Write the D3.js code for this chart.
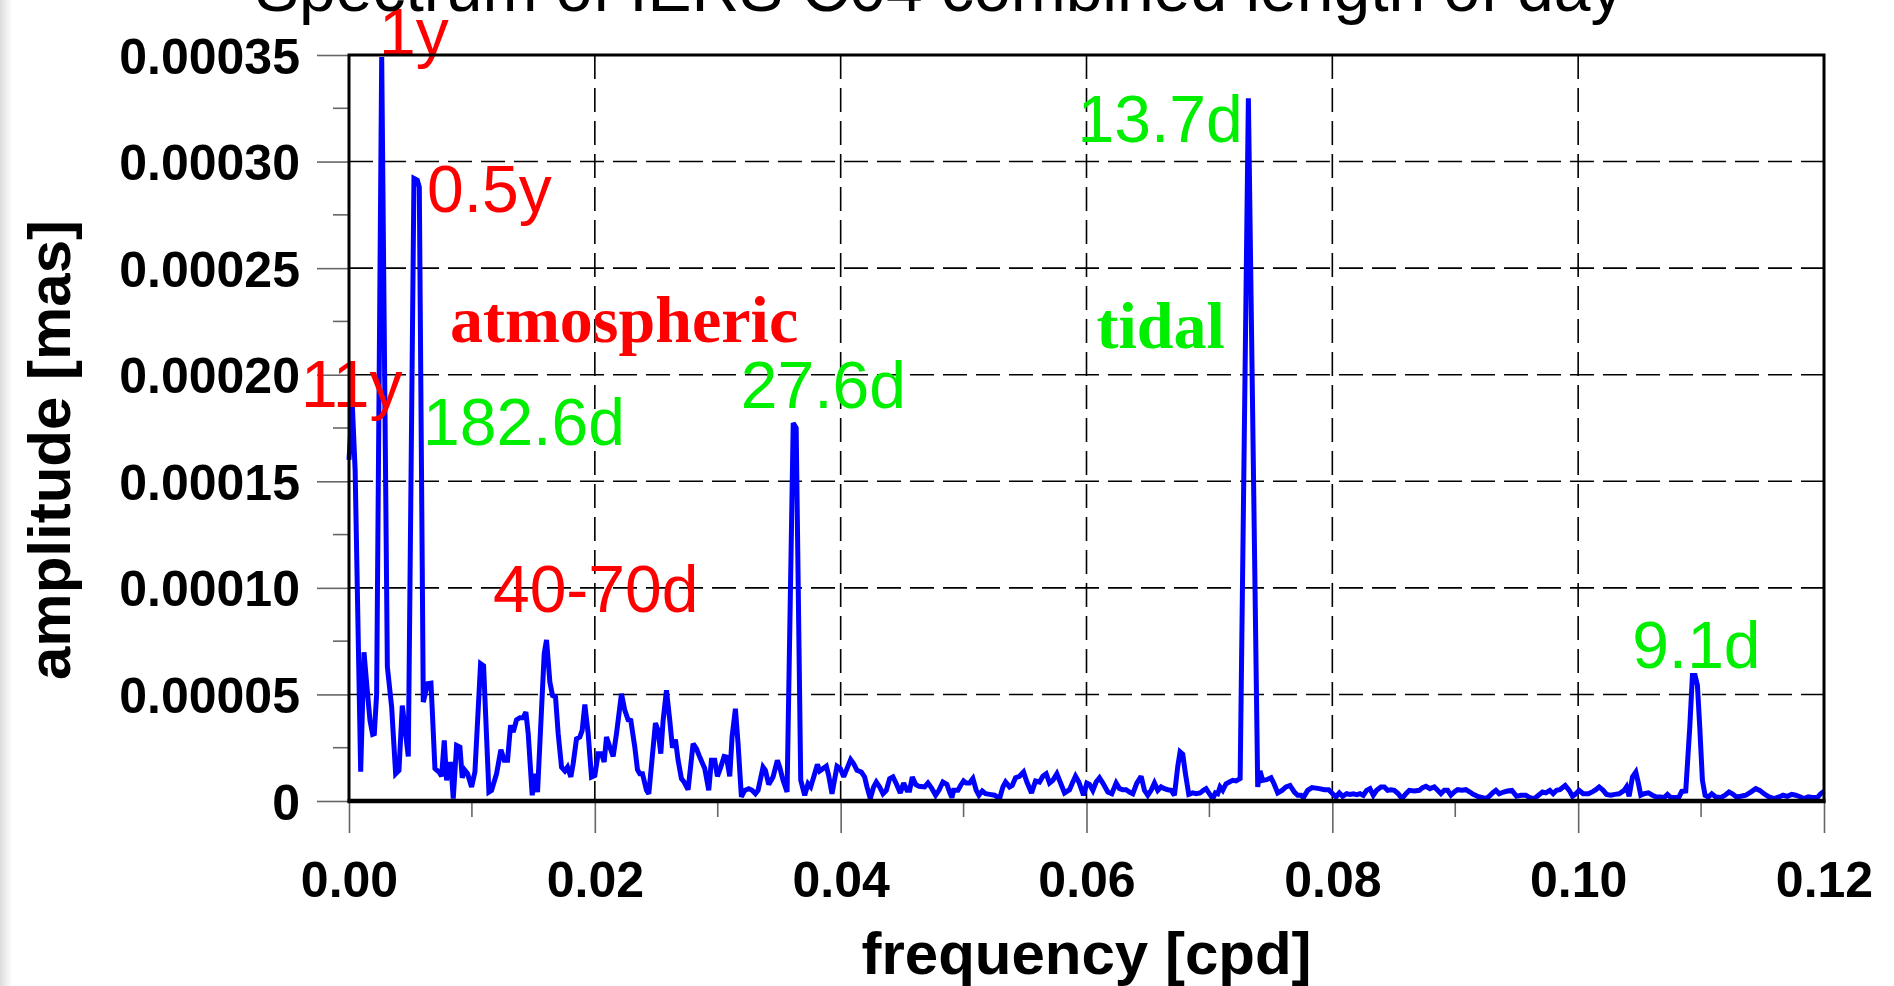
<!DOCTYPE html>
<html><head><meta charset="utf-8">
<script src="https://cdn.jsdelivr.net/npm/d3@7"></script>
<style>html,body{margin:0;padding:0;background:#fff;overflow:hidden}</style>
</head><body>
<svg id="chart" width="1894" height="986"></svg>
<script>
// ---------------- data ----------------
const freqCpd = [
0,0.00027,0.0005,0.00095,0.00122,0.001436,0.001707,0.001924,0.00206,0.002249,
0.00266,0.00312,0.003469,0.003794,0.004065,0.004336,0.004824,0.005285,0.00556,0.00572,
0.006043,0.006396,0.006667,0.006775,0.006992,0.007317,0.007534,0.007751,0.00794,0.00813,
0.008293,0.008482,0.008753,0.009024,0.009214,0.009431,0.009648,0.009973,0.010244,0.010705,
0.010949,0.011382,0.011599,0.012005,0.012358,0.012629,0.0129,0.013144,0.01336,0.013631,
0.013902,0.014173,0.01439,0.01458,0.014905,0.015122,0.015339,0.015881,0.01607,0.016341,
0.016558,0.016802,0.017019,0.01729,0.017561,0.017778,0.018049,0.018238,0.018509,0.01878,
0.01897,0.019187,0.019458,0.019729,0.02,0.020271,0.020542,0.020759,0.020949,0.02122,
0.021491,0.021762,0.022168,0.022439,0.02271,0.022927,0.023252,0.023469,0.023659,0.023875,
0.024201,0.02439,0.024932,0.025149,0.025366,0.025556,0.025827,0.026098,0.026314,0.026558,
0.026775,0.027046,0.027263,0.027588,0.027995,0.028266,0.028537,0.028943,0.029268,0.029485,
0.029756,0.029973,0.030244,0.030515,0.030705,0.030976,0.031165,0.031436,0.031653,0.031924,
0.032195,0.03252,0.032791,0.033062,0.033279,0.033686,0.033875,0.034146,0.034499,0.034851,
0.035041,0.035312,0.03564,0.03614,0.03638,0.03675,0.037073,0.037344,0.037561,0.037886,
0.038103,0.038293,0.038564,0.038835,0.039024,0.039295,0.039702,0.039973,0.040244,0.040515,
0.040813,0.041057,0.041328,0.04168,0.041951,0.042141,0.042412,0.042683,0.0429,0.043171,
0.043442,0.043713,0.043984,0.044255,0.044526,0.044851,0.045122,0.045393,0.04561,0.045827,
0.046098,0.046369,0.046829,0.0471,0.047371,0.047724,0.047995,0.04832,0.048645,0.048862,
0.049051,0.049187,0.049539,0.049756,0.05,0.050217,0.050488,0.050759,0.05103,0.051247,
0.051518,0.051789,0.052114,0.05252,0.052927,0.053198,0.053415,0.05374,0.053957,0.054228,
0.054553,0.054878,0.055149,0.055528,0.055854,0.056179,0.05645,0.056721,0.056992,0.057263,
0.057588,0.057859,0.058211,0.058618,0.058889,0.059106,0.059377,0.059756,0.060027,0.060244,
0.060515,0.060786,0.061057,0.061328,0.061734,0.06206,0.062412,0.062683,0.062954,0.063225,
0.063496,0.063767,0.064092,0.064444,0.064715,0.064986,0.065257,0.065528,0.065799,0.06607,
0.066341,0.066612,0.066883,0.067154,0.067425,0.067615,0.067832,0.068049,0.06832,0.068645,
0.068916,0.069241,0.069512,0.069729,0.07,0.070271,0.070488,0.070678,0.070867,0.071084,
0.071355,0.071626,0.071897,0.072168,0.0725,0.07317,0.073929,0.074119,0.074336,0.074661,
0.075014,0.07523,0.075556,0.075908,0.076233,0.076558,0.076911,0.077182,0.077453,0.077642,
0.077995,0.078347,0.078943,0.07935,0.079702,0.080027,0.080298,0.080569,0.08084,0.081165,
0.081436,0.081707,0.081978,0.082249,0.08252,0.082791,0.083062,0.083333,0.083604,0.083957,
0.084228,0.084499,0.08477,0.085041,0.085366,0.085664,0.085989,0.08626,0.086667,0.087073,
0.087344,0.087615,0.08794,0.088293,0.088564,0.088835,0.089106,0.089377,0.089648,0.089919,
0.09019,0.090542,0.090867,0.091192,0.091463,0.091816,0.092222,0.092493,0.092764,0.093035,
0.093306,0.093577,0.09393,0.094255,0.094607,0.094986,0.095339,0.095745,0.09607,0.096423,
0.096775,0.0971,0.097371,0.097696,0.097967,0.098238,0.098509,0.098943,0.099268,0.099539,
0.09981,0.100081,0.100407,0.10084,0.10122,0.101436,0.101707,0.102033,0.102304,0.102656,
0.102981,0.103333,0.10374,0.10393,0.104146,0.104417,0.104688,0.104878,0.105095,0.105366,
0.105718,0.106043,0.106369,0.106721,0.106992,0.107263,0.107534,0.10794,0.108211,0.108428,
0.108753,0.109079,0.109295,0.109512,0.109702,0.109892,0.110108,0.110325,0.110596,0.110867,
0.111192,0.111599,0.111951,0.112276,0.112547,0.112873,0.113225,0.113631,0.114038,0.114444,
0.11477,0.115122,0.115528,0.115935,0.116341,0.116667,0.117019,0.117371,0.117696,0.118103,
0.118374,0.118726,0.119051,0.119458,0.119729,0.12
];
const amplitudeMas = [
16.0e-5,18.58e-5,15.5e-5,1.37e-5,6.98e-5,5.5e-5,3.78e-5,3.13e-5,3.16e-5,5.03e-5,
34.9e-5,6.3e-5,4.41e-5,1.28e-5,1.44e-5,4.48e-5,2.09e-5,29.21e-5,29.13e-5,28.8e-5,
4.64e-5,5.5e-5,5.53e-5,4.25e-5,1.52e-5,1.36e-5,1.16e-5,2.84e-5,0.97e-5,1.72e-5,
1.72e-5,0.11e-5,2.61e-5,2.53e-5,1.09e-5,1.44e-5,1.28e-5,0.66e-5,1.36e-5,6.44e-5,
6.34e-5,0.42e-5,0.5e-5,1.28e-5,2.41e-5,1.91e-5,1.91e-5,3.55e-5,3.23e-5,3.81e-5,
3.91e-5,3.91e-5,4.17e-5,3.16e-5,0.27e-5,1.28e-5,0.42e-5,6.91e-5,7.56e-5,5.58e-5,
4.95e-5,4.88e-5,3.16e-5,1.59e-5,1.41e-5,1.59e-5,1.13e-5,1.75e-5,2.92e-5,3.0e-5,
3.31e-5,4.53e-5,3.16e-5,1.13e-5,1.2e-5,2.22e-5,2.22e-5,1.83e-5,3.0e-5,2.53e-5,
2.09e-5,3.16e-5,5.03e-5,4.25e-5,3.81e-5,3.78e-5,2.53e-5,1.47e-5,1.28e-5,1.28e-5,
0.5e-5,0.34e-5,3.66e-5,3.31e-5,2.22e-5,3.78e-5,5.19e-5,3.78e-5,2.5e-5,2.88e-5,
1.91e-5,1.05e-5,0.89e-5,0.53e-5,2.69e-5,2.45e-5,2.06e-5,1.52e-5,0.5e-5,1.91e-5,
1.91e-5,1.16e-5,1.59e-5,2.09e-5,2.06e-5,1.16e-5,3.0e-5,4.33e-5,2.69e-5,0.19e-5,
0.5e-5,0.58e-5,0.5e-5,0.34e-5,0.5e-5,1.59e-5,1.44e-5,0.78e-5,1.13e-5,1.91e-5,
1.59e-5,0.97e-5,0.42e-5,17.73e-5,17.5e-5,0.98e-5,0.27e-5,0.81e-5,0.66e-5,1.28e-5,
1.72e-5,1.41e-5,1.52e-5,1.63e-5,1.2e-5,0.34e-5,1.63e-5,1.52e-5,1.13e-5,1.52e-5,
1.94e-5,1.75e-5,1.44e-5,1.36e-5,1.13e-5,0.66e-5,0.11e-5,0.66e-5,0.89e-5,0.66e-5,
0.34e-5,0.5e-5,1.05e-5,1.13e-5,0.81e-5,0.38e-5,0.84e-5,0.5e-5,0.5e-5,1.13e-5,
0.78e-5,0.69e-5,0.66e-5,0.84e-5,0.63e-5,0.27e-5,0.5e-5,0.89e-5,0.78e-5,0.42e-5,
0.16e-5,0.5e-5,0.5e-5,0.73e-5,0.94e-5,0.84e-5,0.84e-5,1.05e-5,0.5e-5,0.27e-5,
0.47e-5,0.34e-5,0.31e-5,0.27e-5,0.11e-5,0.66e-5,0.89e-5,0.66e-5,0.73e-5,1.09e-5,
1.16e-5,1.36e-5,0.89e-5,0.38e-5,0.94e-5,0.89e-5,1.16e-5,1.28e-5,0.84e-5,0.97e-5,
1.28e-5,0.89e-5,0.38e-5,0.53e-5,0.89e-5,1.16e-5,0.89e-5,0.27e-5,0.84e-5,0.78e-5,
0.5e-5,0.89e-5,1.09e-5,0.84e-5,0.42e-5,0.34e-5,0.84e-5,0.58e-5,0.53e-5,0.53e-5,
0.42e-5,0.34e-5,0.84e-5,1.16e-5,0.5e-5,0.27e-5,0.5e-5,0.84e-5,0.5e-5,0.66e-5,
0.58e-5,0.53e-5,0.5e-5,0.27e-5,1.63e-5,2.3e-5,2.19e-5,1.28e-5,0.31e-5,0.38e-5,
0.34e-5,0.38e-5,0.5e-5,0.58e-5,0.34e-5,0.11e-5,0.38e-5,0.34e-5,0.66e-5,0.5e-5,
0.81e-5,0.89e-5,0.97e-5,0.94e-5,1.05e-5,32.97e-5,0.66e-5,1.41e-5,0.97e-5,1.0e-5,
1.09e-5,0.84e-5,0.38e-5,0.5e-5,0.66e-5,0.73e-5,0.42e-5,0.27e-5,0.27e-5,0.16e-5,
0.5e-5,0.63e-5,0.58e-5,0.53e-5,0.53e-5,0.34e-5,0.19e-5,0.38e-5,0.22e-5,0.34e-5,
0.31e-5,0.34e-5,0.3e-5,0.34e-5,0.27e-5,0.5e-5,0.58e-5,0.27e-5,0.5e-5,0.66e-5,
0.66e-5,0.5e-5,0.53e-5,0.5e-5,0.34e-5,0.11e-5,0.34e-5,0.5e-5,0.47e-5,0.5e-5,
0.63e-5,0.69e-5,0.58e-5,0.66e-5,0.5e-5,0.34e-5,0.5e-5,0.5e-5,0.27e-5,0.42e-5,
0.53e-5,0.5e-5,0.53e-5,0.42e-5,0.31e-5,0.22e-5,0.16e-5,0.11e-5,0.22e-5,0.38e-5,
0.5e-5,0.34e-5,0.42e-5,0.47e-5,0.5e-5,0.22e-5,0.27e-5,0.27e-5,0.16e-5,0.11e-5,
0.27e-5,0.42e-5,0.38e-5,0.5e-5,0.34e-5,0.5e-5,0.53e-5,0.73e-5,0.5e-5,0.22e-5,
0.34e-5,0.5e-5,0.34e-5,0.34e-5,0.45e-5,0.53e-5,0.66e-5,0.5e-5,0.31e-5,0.27e-5,
0.31e-5,0.34e-5,0.5e-5,0.66e-5,0.22e-5,1.13e-5,1.36e-5,0.89e-5,0.27e-5,0.34e-5,
0.38e-5,0.27e-5,0.19e-5,0.19e-5,0.16e-5,0.31e-5,0.16e-5,0.16e-5,0.19e-5,0.45e-5,
0.47e-5,3.47e-5,5.89e-5,5.89e-5,5.42e-5,3.47e-5,0.97e-5,0.27e-5,0.19e-5,0.34e-5,
0.19e-5,0.16e-5,0.27e-5,0.42e-5,0.34e-5,0.19e-5,0.22e-5,0.27e-5,0.42e-5,0.58e-5,
0.5e-5,0.34e-5,0.19e-5,0.11e-5,0.19e-5,0.27e-5,0.22e-5,0.31e-5,0.27e-5,0.19e-5,
0.11e-5,0.19e-5,0.16e-5,0.16e-5,0.34e-5,0.45e-5
];
const xTickValues = [0, 0.02, 0.04, 0.06, 0.08, 0.10, 0.12];
const xTickLabels = ["0.00", "0.02", "0.04", "0.06", "0.08", "0.10", "0.12"];
const xMinorTicks = [0.01, 0.03, 0.05, 0.07, 0.09, 0.11];
const yTickValues = [0, 0.00005, 0.00010, 0.00015, 0.00020, 0.00025, 0.00030, 0.00035];
const yTickLabels = ["0", "0.00005", "0.00010", "0.00015", "0.00020", "0.00025", "0.00030", "0.00035"];
const yMinorTicks = [0.000025, 0.000075, 0.000125, 0.000175, 0.000225, 0.000275, 0.000325];
const labelTexts = ["1y", "0.5y", "11y", "182.6d", "27.6d", "40-70d", "13.7d", "9.1d", "atmospheric", "tidal"];
const labelFreq  = [0.00244, 0.00634, -0.0039, 0.00602, 0.03187, 0.01171, 0.05927, 0.10439, 0.00821, 0.06081];
const labelAmp   = [35.0e-5, 27.63e-5, 18.49e-5, 16.70e-5, 18.44e-5, 8.87e-5, 30.92e-5, 6.24e-5, 21.53e-5, 21.25e-5];
const labelGroup = ["atm", "atm", "atm", "tid", "tid", "atm", "tid", "tid", "atm", "tid"];
const titleText = "Spectrum of IERS C04 combined length of day";
const xTitle = "frequency [cpd]";
const yTitle = "amplitude [mas]";

// ---------------- drawing ----------------
const W = 1894, H = 986;
const margin = {left: 349, top: 55, right: 70, bottom: 185};
const pw = W - margin.left - margin.right, ph = H - margin.top - margin.bottom;
const svg = d3.select("#chart");
const sans = "'Liberation Sans', Arial, Helvetica, sans-serif";
const serif = "'Liberation Serif', 'Times New Roman', serif";
const groupColor = {atm: "#ff0000", tid: "#00ee00"};

// background with faint left strip
svg.append("rect").attr("width", W).attr("height", H).attr("fill", "#ffffff");
const grad = svg.append("defs").append("linearGradient").attr("id", "lstrip");
grad.append("stop").attr("offset", "0%").attr("stop-color", "#dcdcdc");
grad.append("stop").attr("offset", "100%").attr("stop-color", "#ffffff");
svg.append("rect").attr("x", 0).attr("y", 0).attr("width", 12).attr("height", H).attr("fill", "url(#lstrip)");

const x = d3.scaleLinear().domain([0, 0.12]).range([0, pw]);
const y = d3.scaleLinear().domain([0, 0.00035]).range([ph, 0]);
const g = svg.append("g").attr("transform", `translate(${margin.left},${margin.top})`);

// title (partly cut at the top of the picture)
svg.append("text").attr("x", 255).attr("y", 11)
  .attr("font-family", sans).attr("font-size", 66).attr("fill", "#000")
  .text(titleText);

// grid
g.append("g").selectAll("line").data(yTickValues.filter(v => v > 0 && v < 0.00035)).join("line")
  .attr("x1", 0).attr("x2", pw).attr("y1", d => y(d)).attr("y2", d => y(d))
  .attr("stroke", "#000").attr("stroke-width", 1.6).attr("stroke-dasharray", "24,9");
g.append("g").selectAll("line").data(xTickValues.filter(v => v > 0 && v < 0.12)).join("line")
  .attr("y1", 0).attr("y2", ph).attr("x1", d => x(d)).attr("x2", d => x(d))
  .attr("stroke", "#000").attr("stroke-width", 1.6).attr("stroke-dasharray", "24,9");

// axes
const xAxis = d3.axisBottom(x).tickValues(xTickValues)
  .tickFormat((d, i) => xTickLabels[i]).tickSize(32).tickPadding(28);
const gx = g.append("g").attr("transform", `translate(0,${ph})`).call(xAxis);
const yAxis = d3.axisLeft(y).tickValues(yTickValues)
  .tickFormat((d, i) => yTickLabels[i]).tickSize(32).tickPadding(17);
const gy = g.append("g").call(yAxis);
[gx, gy].forEach(a => {
  a.select(".domain").remove();
  a.selectAll(".tick line").attr("stroke", "#666").attr("stroke-width", 1.6);
  a.selectAll(".tick text").attr("font-family", sans).attr("font-weight", "bold")
    .attr("font-size", 50).attr("fill", "#000");
});
gy.selectAll(".tick text").attr("dy", "0.36em");
gx.selectAll(".tick text").attr("dy", "0.72em");
g.append("g").selectAll("line").data(xMinorTicks).join("line")
  .attr("x1", d => x(d)).attr("x2", d => x(d)).attr("y1", ph).attr("y2", ph + 16)
  .attr("stroke", "#666").attr("stroke-width", 1.6);
g.append("g").selectAll("line").data(yMinorTicks).join("line")
  .attr("y1", d => y(d)).attr("y2", d => y(d)).attr("x1", -16).attr("x2", 0)
  .attr("stroke", "#666").attr("stroke-width", 1.6);

// spectrum line
const pts = freqCpd.map((f, i) => [f, amplitudeMas[i]]);
g.append("path").datum(pts)
  .attr("d", d3.line().x(d => x(d[0])).y(d => y(d[1])))
  .attr("fill", "none").attr("stroke", "#0000ff").attr("stroke-width", 5)
  .attr("stroke-linejoin", "miter").attr("stroke-miterlimit", 2.5);

// annotations
labelTexts.forEach((t, i) => {
  const words = (t === "atmospheric" || t === "tidal");
  g.append("text").attr("x", x(labelFreq[i])).attr("y", y(labelAmp[i]))
    .attr("font-family", words ? serif : sans)
    .attr("font-weight", words ? "bold" : "normal")
    .attr("font-size", 66).attr("fill", groupColor[labelGroup[i]])
    .text(t);
});

// frame
g.append("rect").attr("x", 0).attr("y", 0).attr("width", pw).attr("height", ph)
  .attr("fill", "none").attr("stroke", "#000").attr("stroke-width", 3);
g.append("line").attr("x1", -1.5).attr("x2", pw + 1.5).attr("y1", ph).attr("y2", ph)
  .attr("stroke", "#000").attr("stroke-width", 4.5);

// axis titles
svg.append("text").attr("x", margin.left + pw / 2).attr("y", 974)
  .attr("text-anchor", "middle").attr("font-family", sans).attr("font-weight", "bold")
  .attr("font-size", 60).attr("fill", "#000").text(xTitle);
svg.append("text").attr("transform", "translate(70,450) rotate(-90)")
  .attr("text-anchor", "middle").attr("font-family", sans).attr("font-weight", "bold")
  .attr("font-size", 60).attr("fill", "#000").text(yTitle);
</script>
</body></html>
